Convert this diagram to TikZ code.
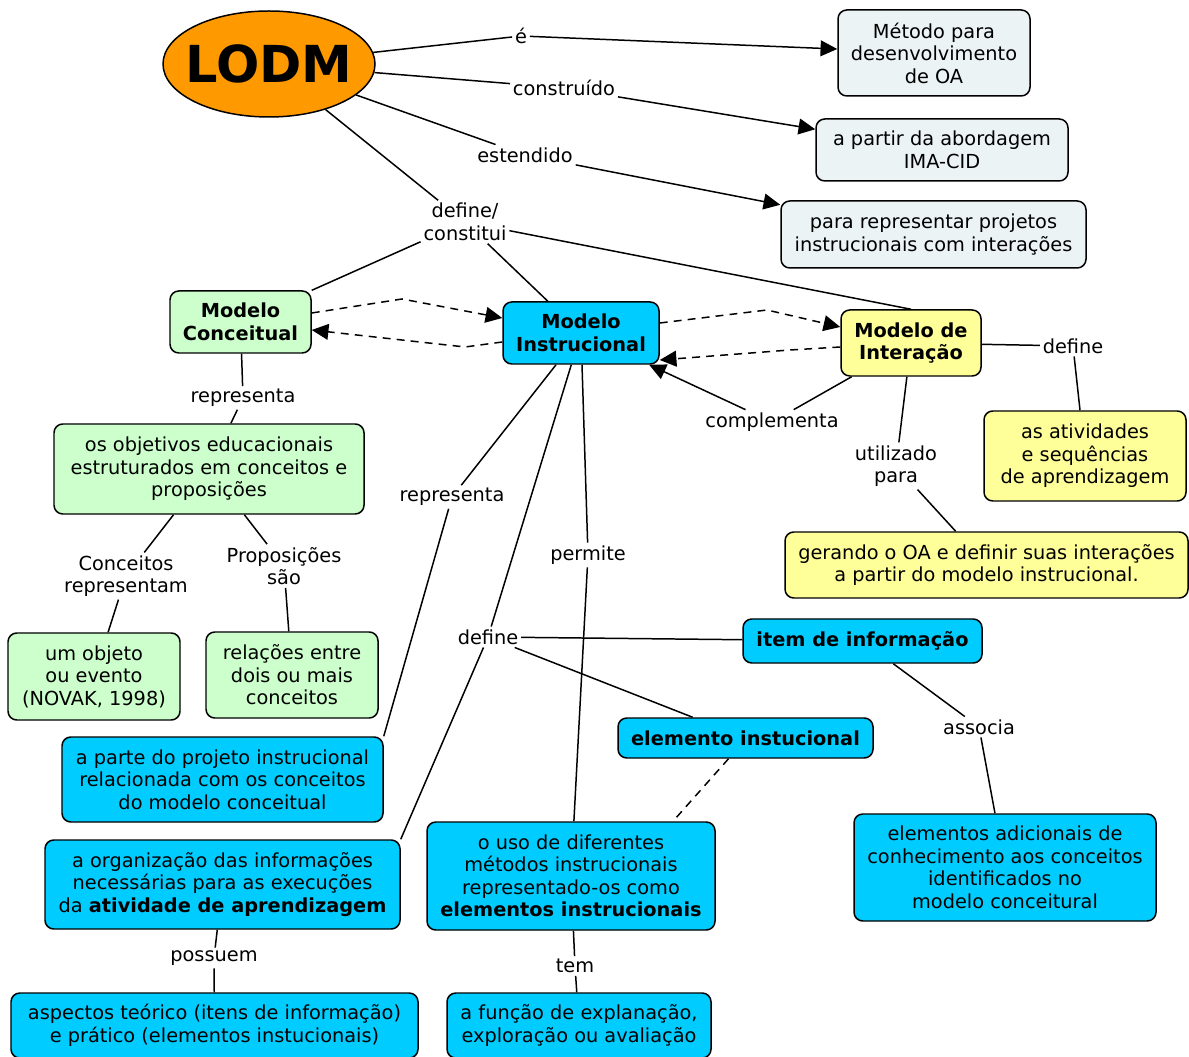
\documentclass[tikz,border=0pt]{standalone}
\usepackage{fontspec}
\setmainfont{DejaVu Sans}
\usetikzlibrary{shapes.geometric, arrows.meta, positioning, calc}
\definecolor{lodmorange}{RGB}{255,153,0}
\definecolor{greybox}{RGB}{236,243,245}
\definecolor{conceitgreen}{RGB}{204,255,204}
\definecolor{instrblue}{RGB}{0,204,255}
\definecolor{interyellow}{RGB}{255,255,153}

\begin{document}
\begin{tikzpicture}[
  box/.style={draw, line width=0.85pt, rounded corners=5pt, align=center, inner sep=0pt,
              font=\fontsize{11}{12.8}\selectfont},
  boldbox/.style={box, font=\fontsize{11}{12.8}\selectfont\bfseries},
  lbl/.style={align=center, inner sep=1.5pt, font=\fontsize{11}{12.8}\selectfont},
  link/.style={line width=0.85pt},
  arr/.style={link, -{Triangle[length=9.5pt, width=9pt]}},
  dlink/.style={arr, dash pattern=on 4.5pt off 3.5pt},
]
\useasboundingbox (0,0) rectangle (23.78,-21.14);

% LODM
\node[ellipse, draw, line width=0.85pt, fill=lodmorange, minimum width=4.24cm, minimum height=2.12cm,
      inner xsep=-0.2cm, inner ysep=0pt, font=\fontsize{29}{30}\selectfont\bfseries] (lodm) at (5.38,-1.28) {LODM};

% what LODM is
\node[box, fill=greybox, minimum width=3.84cm, minimum height=1.72cm] (metodo) at (18.68,-1.06)
     {Método para\\desenvolvimento\\de OA};
\node[box, fill=greybox, minimum width=5.04cm, minimum height=1.24cm] (abord) at (18.84,-3.00)
     {a partir da abordagem\\IMA-CID};
\node[box, fill=greybox, minimum width=6.10cm, minimum height=1.34cm] (projetos) at (18.67,-4.69)
     {para representar projetos\\instrucionais com interações};

% the three models
\node[boldbox, fill=conceitgreen, minimum width=2.82cm, minimum height=1.24cm] (mconc) at (4.81,-6.44) {Modelo\\Conceitual};
\node[boldbox, fill=instrblue, minimum width=3.12cm, minimum height=1.24cm] (minst) at (11.62,-6.66) {Modelo\\Instrucional};
\node[boldbox, fill=interyellow, minimum width=2.80cm, minimum height=1.32cm] (minter) at (18.22,-6.86) {Modelo de\\Interação};

% Modelo de Interacao side
\node[box, fill=interyellow, minimum width=4.04cm, minimum height=1.80cm] (ativ) at (21.70,-9.12)
     {as atividades\\e sequências\\de aprendizagem};
\node[box, fill=interyellow, minimum width=8.06cm, minimum height=1.32cm] (gerando) at (19.73,-11.30)
     {gerando o OA e definir suas interações\\a partir do modelo instrucional.};

% Modelo Conceitual side
\node[box, fill=conceitgreen, minimum width=6.20cm, minimum height=1.80cm] (objetivos) at (4.18,-9.38)
     {os objetivos educacionais\\estruturados em conceitos e\\proposições};
\node[box, fill=conceitgreen, minimum width=3.44cm, minimum height=1.74cm] (objeto) at (1.88,-13.53)
     {um objeto\\ou evento\\(NOVAK, 1998)};
\node[box, fill=conceitgreen, minimum width=3.44cm, minimum height=1.72cm] (relacoes) at (5.84,-13.50)
     {relações entre\\dois ou mais\\conceitos};

% Modelo Instrucional side
\node[box, fill=instrblue, minimum width=6.42cm, minimum height=1.70cm] (parte) at (4.45,-15.59)
     {a parte do projeto instrucional\\relacionada com os conceitos\\do modelo conceitual};
\node[box, fill=instrblue, minimum width=7.10cm, minimum height=1.78cm] (organiz) at (4.45,-17.69)
     {a organização das informações\\necessárias para as execuções\\da \textbf{atividade de aprendizagem}};
\node[box, fill=instrblue, minimum width=8.14cm, minimum height=1.30cm] (aspectos) at (4.29,-20.51)
     {aspectos teórico (itens de informação)\\e prático (elementos instucionais)};
\node[box, fill=instrblue, minimum width=5.76cm, minimum height=2.16cm] (uso) at (11.42,-17.52)
     {o uso de diferentes\\métodos instrucionais\\representado-os como\\\textbf{elementos instrucionais}};
\node[box, fill=instrblue, minimum width=5.28cm, minimum height=1.30cm] (funcao) at (11.58,-20.51)
     {a função de explanação,\\exploração ou avaliação};
\node[boldbox, fill=instrblue, minimum width=5.10cm, minimum height=0.80cm] (elemento) at (14.91,-14.76) {elemento instucional};
\node[boldbox, fill=instrblue, minimum width=4.78cm, minimum height=0.88cm] (item) at (17.25,-12.82) {item de informação};
\node[box, fill=instrblue, minimum width=6.04cm, minimum height=2.14cm] (adicionais) at (20.10,-17.35)
     {elementos adicionais de\\conhecimento aos conceitos\\identificados no\\modelo conceitural};

% link labels
\node[lbl] (le) at (10.42,-0.72) {é};
\node[lbl] (lconstr) at (11.28,-1.76) {construído};
\node[lbl] (lestend) at (10.50,-3.10) {estendido};
\node[lbl] (ldefcons) at (9.30,-4.44) {define/\\constitui};
\node[lbl] (lrepconc) at (4.86,-7.96) {representa};
\node[lbl] (lconcrep) at (2.52,-11.52) {Conceitos\\representam};
\node[lbl] (lpropsao) at (5.68,-11.32) {Proposições\\são};
\node[lbl] (lrepinst) at (9.04,-9.94) {representa};
\node[lbl] (lpermite) at (11.76,-11.10) {permite};
\node[lbl] (ldefinst) at (9.76,-12.74) {define};
\node[lbl] (lpossuem) at (4.28,-19.16) {possuem};
\node[lbl] (ltem) at (11.50,-19.32) {tem};
\node[lbl] (lcompl) at (15.44,-8.44) {complementa};
\node[lbl] (lutil) at (17.92,-9.32) {utilizado\\para};
\node[lbl] (ldefinter) at (21.46,-6.92) {define};
\node[lbl] (lassocia) at (19.58,-14.54) {associa};

% LODM links
\draw[link] (lodm) -- (le);
\draw[arr] (le) -- (metodo);
\draw[link] (lodm) -- (lconstr);
\draw[arr] (lconstr) -- (abord);
\draw[link] (lodm) -- (lestend);
\draw[arr] (lestend) -- (projetos);
\draw[link] (lodm) -- (ldefcons);
\draw[link] (ldefcons) -- (mconc);
\draw[link] (ldefcons) -- (minst);
\draw[link] (ldefcons) -- (minter.north);

% Modelo Conceitual links
\draw[link] (mconc) -- (lrepconc);
\draw[link] (lrepconc) -- (objetivos);
\draw[link] (objetivos) -- (lconcrep);
\draw[link] (lconcrep) -- (objeto);
\draw[link] (objetivos) -- (lpropsao);
\draw[link] (lpropsao) -- (relacoes);

% Modelo Instrucional links
\draw[link] (minst) -- (lrepinst);
\draw[link] (lrepinst) -- (parte.north east);
\draw[link] (minst) -- (ldefinst);
\draw[link] (ldefinst) -- (organiz.north east);
\draw[link] (ldefinst) -- (item);
\draw[link] (ldefinst) -- (elemento);
\draw[link] (minst) -- (lpermite);
\draw[link] (lpermite) -- (uso);
\draw[link] (organiz) -- (lpossuem);
\draw[link] (lpossuem) -- (aspectos);
\draw[link] (uso) -- (ltem);
\draw[link] (ltem) -- (funcao);
\draw[link] (item) -- (lassocia);
\draw[link] (lassocia) -- (adicionais);
\draw[link, dash pattern=on 4.5pt off 3.5pt] ($(elemento.south)+(-0.34,0)$) -- ($(uso.north)+(2.04,0)$);

% Modelo de Interacao links
\draw[link] (minter) -- (lcompl);
\draw[arr] (lcompl) -- (minst);
\draw[link] (minter) -- (lutil);
\draw[link] (lutil) -- (gerando);
\draw[link] (minter) -- (ldefinter);
\draw[link] (ldefinter) -- (ativ);

% dashed links between the models
\coordinate (bendci) at (8.04,-5.98);
\coordinate (bendic) at (9.30,-6.94);
\coordinate (bendit) at (15.34,-6.20);
\coordinate (bendti) at (15.80,-7.00);
\draw[dlink] ($(mconc.east)+(0,0.18)$) -- (bendci) -- ($(minst.west)+(0,0.30)$);
\draw[dlink] ($(minst.west)+(0,-0.18)$) -- (bendic) -- ($(mconc.east)+(0,-0.16)$);
\draw[dlink] ($(minst.east)+(0,0.20)$) -- (bendit) -- ($(minter.west)+(0,0.32)$);
\draw[dlink] ($(minter.west)+(0,-0.08)$) -- (bendti) -- ($(minst.east)+(0,-0.54)$);
\end{tikzpicture}
\end{document}
